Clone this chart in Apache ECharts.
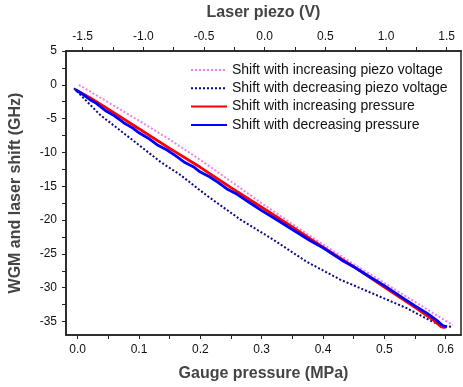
<!DOCTYPE html>
<html>
<head>
<meta charset="utf-8">
<script src="https://cdn.jsdelivr.net/npm/echarts@6/dist/echarts.min.js"></script>
<style>
  html, body { margin: 0; padding: 0; background: #fff; }
  #chart { width: 463px; height: 387px; }
</style>
</head>
<body>
<div id="chart"></div>
<script>
// piezo sweeps, plotted against the top axis (V)
const piezoUpV = [-1.531, -1.288, -1.036, -0.783, -0.530, -0.278, -0.025, 0.228, 0.480, 0.733, 0.986, 1.238, 1.491, 1.551];
const piezoUpShift = [0.0, -2.6, -5.3, -8.1, -11.1, -14.3, -17.5, -20.6, -23.6, -26.5, -29.3, -32.1, -34.9, -35.5];

const piezoDownV = [-1.571, -1.359, -1.187, -1.036, -0.859, -0.697, -0.475, -0.202, 0.071, 0.349, 0.622, 0.895, 1.167, 1.390, 1.471, 1.551];
const piezoDownShift = [-0.5, -4.4, -6.8, -8.9, -11.4, -13.3, -16.4, -19.9, -22.9, -26.2, -28.8, -30.9, -33.0, -35.1, -35.7, -35.8];

// pressure sweeps, plotted against the bottom axis (MPa)
const pressUpP = [-0.002, 0.02, 0.05, 0.1, 0.15, 0.2, 0.25, 0.3, 0.35, 0.4, 0.45, 0.5, 0.55, 0.58, 0.593, 0.6];
const pressUpShift = [-0.8, -1.9, -3.6, -6.5, -9.4, -12.2, -15.2, -18.1, -21.0, -24.0, -26.9, -29.9, -32.9, -34.8, -35.8, -35.9];

const pressDownP = [-0.004, 0.01, 0.02, 0.03, 0.045, 0.06, 0.075, 0.09, 0.1, 0.115, 0.13, 0.145, 0.16, 0.175, 0.19, 0.2, 0.215, 0.23, 0.245, 0.26, 0.28, 0.3, 0.32, 0.35, 0.38, 0.4, 0.43, 0.45, 0.48, 0.5, 0.53, 0.55, 0.57, 0.585, 0.595, 0.602];
const pressDownShift = [-0.7, -1.5, -2.2, -2.7, -3.8, -4.6, -5.6, -6.4, -7.1, -7.9, -8.9, -9.6, -10.5, -11.5, -12.2, -12.9, -13.6, -14.5, -15.5, -16.2, -17.4, -18.6, -19.7, -21.4, -23.1, -24.1, -25.9, -26.9, -28.6, -29.7, -31.5, -32.7, -33.8, -34.8, -35.6, -35.8];

const seriesNames = [
  'Shift with increasing piezo voltage',
  'Shift with decreasing piezo voltage',
  'Shift with increasing pressure',
  'Shift with decreasing pressure'
];

// tick labels
const pressureLabels = [0, 0.1, 0.2, 0.3, 0.4, 0.5, 0.6];
const pressureTicks = [0, 0.05, 0.1, 0.15, 0.2, 0.25, 0.3, 0.35, 0.4, 0.45, 0.5, 0.55, 0.6];
const piezoLabels = [-1.5, -1.0, -0.5, 0, 0.5, 1.0, 1.5];
const piezoTicks = [-1.5, -1.25, -1.0, -0.75, -0.5, -0.25, 0, 0.25, 0.5, 0.75, 1.0, 1.25, 1.5];
const shiftLabels = [-35, -30, -25, -20, -15, -10, -5, 0, 5];
const shiftTicks = [-35, -32.5, -30, -27.5, -25, -22.5, -20, -17.5, -15, -12.5, -10, -7.5, -5, -2.5, 0, 2.5, 5];

const zip = (xs, ys) => xs.map((x, i) => [x, ys[i]]);

const font = 'Liberation Sans, Arial, sans-serif';
const axisColor = '#222';
const labelStyle = { color: '#111', fontSize: 12, fontFamily: font, formatter: v => v.toFixed(1) };
const nameStyle = { color: '#444', fontSize: 16, fontWeight: 'bold', fontFamily: font };

const chart = echarts.init(document.getElementById('chart'));

const option = {
  animation: false,
  backgroundColor: '#fff',
  grid: {
    left: 66, right: 2, top: 50, bottom: 47,
    show: true, borderColor: axisColor, borderWidth: 1.5
  },
  legend: {
    orient: 'vertical',
    left: 190, top: 63, padding: 0,
    itemWidth: 36, itemHeight: 14, itemGap: 4.3,
    itemStyle: { opacity: 0 },
    textStyle: { color: '#111', fontSize: 14, fontFamily: font },
    data: seriesNames
  },
  xAxis: [
    {
      type: 'value', position: 'bottom',
      min: -0.019, max: 0.625,
      name: 'Gauge pressure (MPa)', nameLocation: 'middle', nameGap: 31,
      nameTextStyle: nameStyle,
      axisLine: { onZero: false, lineStyle: { color: axisColor, width: 1.5 } },
      axisTick: { inside: false, length: 4, customValues: pressureTicks, lineStyle: { color: axisColor } },
      axisLabel: Object.assign({ margin: 9, customValues: pressureLabels }, labelStyle),
      splitLine: { show: false }
    },
    {
      type: 'value', position: 'top',
      min: -1.637, max: 1.618,
      name: 'Laser piezo (V)', nameLocation: 'middle', nameGap: 30,
      nameTextStyle: nameStyle,
      axisLine: { onZero: false, lineStyle: { color: axisColor, width: 1.5 } },
      axisTick: { inside: false, length: 4, customValues: piezoTicks, lineStyle: { color: axisColor } },
      axisLabel: Object.assign({ margin: 8, customValues: piezoLabels }, labelStyle),
      splitLine: { show: false }
    }
  ],
  yAxis: {
    type: 'value',
    min: -37, max: 5,
    name: 'WGM and laser shift (GHz)', nameLocation: 'middle', nameGap: 42,
    nameTextStyle: nameStyle,
    axisLine: { onZero: false, lineStyle: { color: axisColor, width: 1.5 } },
    axisTick: { inside: false, length: 4, customValues: shiftTicks, lineStyle: { color: axisColor } },
    axisLabel: { margin: 9, customValues: shiftLabels, color: '#111', fontSize: 12, fontFamily: font },
    splitLine: { show: false }
  },
  series: [
    {
      name: seriesNames[0], type: 'line', xAxisIndex: 1,
      data: zip(piezoUpV, piezoUpShift),
      symbol: 'none', color: '#f27ef2',
      lineStyle: { width: 2, type: [2, 2] }
    },
    {
      name: seriesNames[1], type: 'line', xAxisIndex: 1,
      data: zip(piezoDownV, piezoDownShift),
      symbol: 'none', color: '#0a0a80',
      lineStyle: { width: 2, type: [2, 2] }
    },
    {
      name: seriesNames[2], type: 'line', xAxisIndex: 0,
      data: zip(pressUpP, pressUpShift),
      symbol: 'none', color: '#ff0000',
      lineStyle: { width: 2.8 }
    },
    {
      name: seriesNames[3], type: 'line', xAxisIndex: 0,
      data: zip(pressDownP, pressDownShift),
      symbol: 'none', color: '#0000ff',
      lineStyle: { width: 2.8 }
    }
  ]
};

chart.setOption(option);
</script>
</body>
</html>
